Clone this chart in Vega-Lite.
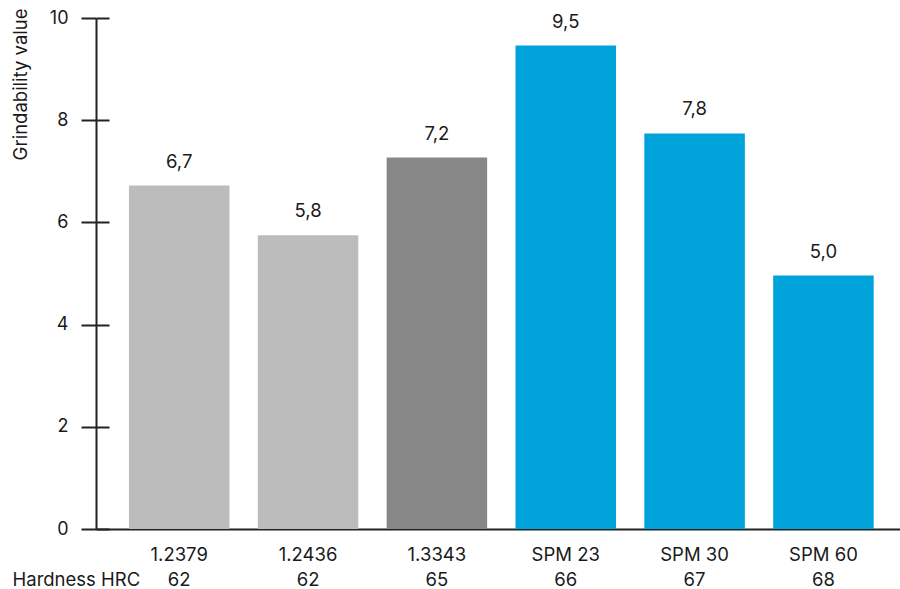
{
  "$schema": "https://vega.github.io/schema/vega-lite/v6.json",
  "width": 804,
  "height": 511,
  "autosize": {"type": "none"},
  "padding": {"left": 96, "top": 18, "right": 0, "bottom": 60},
  "background": "white",
  "config": {
    "view": {"stroke": null},
    "font": "Inter",
    "text": {"font": "Inter"}
  },
  "data": {
    "values": [
      {"cat": "1.2379|62", "value": 6.72, "label": "6,7", "grp": "light"},
      {"cat": "1.2436|62", "value": 5.75, "label": "5,8", "grp": "light"},
      {"cat": "1.3343|65", "value": 7.27, "label": "7,2", "grp": "dark"},
      {"cat": "SPM 23|66", "value": 9.46, "label": "9,5", "grp": "blue"},
      {"cat": "SPM 30|67", "value": 7.74, "label": "7,8", "grp": "blue"},
      {"cat": "SPM 60|68", "value": 4.96, "label": "5,0", "grp": "blue"}
    ]
  },
  "encoding": {
    "x": {
      "field": "cat",
      "type": "nominal",
      "sort": null,
      "scale": {"paddingInner": 0.22, "paddingOuter": 0.23, "align": 0.556},
      "axis": {
        "title": "Hardness HRC",
        "titleFont": "Inter",
        "titleFontSize": 18.5,
        "titleFontWeight": "normal",
        "titleColor": "#1a1a1a",
        "titleAnchor": null,
        "titleAlign": "left",
        "titleBaseline": "alphabetic",
        "titleX": -84,
        "titleY": 56,
        "labelExpr": "split(datum.value, '|')",
        "labelAngle": 0,
        "labelFont": "Inter",
        "labelFontSize": 18.5,
        "labelColor": "#1a1a1a",
        "labelLineHeight": 25,
        "labelPadding": 16,
        "ticks": false,
        "domainColor": "#222222",
        "domainWidth": 2
      }
    },
    "y": {
      "field": "value",
      "type": "quantitative",
      "scale": {"domain": [0, 10], "nice": false}
    }
  },
  "layer": [
    {
      "mark": {"type": "bar"},
      "encoding": {
        "color": {
          "field": "grp",
          "type": "nominal",
          "scale": {"domain": ["light", "dark", "blue"], "range": ["#bcbcbc", "#878787", "#00a2da"]},
          "legend": null
        },
        "y": {
          "field": "value",
          "type": "quantitative",
          "scale": {"domain": [0, 10], "nice": false},
          "axis": {
            "title": "Grindability value",
            "titleFont": "Inter",
            "titleFontSize": 18.5,
            "titleFontWeight": "normal",
            "titleColor": "#1a1a1a",
            "titleAnchor": null,
            "titleAlign": "right",
            "titleBaseline": "middle",
            "titleAngle": -90,
            "titleX": -76,
            "titleY": -10,
            "values": [0, 2, 4, 6, 8, 10],
            "grid": false,
            "tickSize": 15,
            "tickWidth": 2,
            "tickColor": "#222222",
            "domainColor": "#222222",
            "domainWidth": 2,
            "labelFont": "Inter",
            "labelFontSize": 18,
            "labelColor": "#1a1a1a",
            "labelPadding": 13
          }
        }
      }
    },
    {
      "mark": {"type": "text", "dy": -24, "baseline": "middle", "fontSize": 18.5, "color": "#1a1a1a", "font": "Inter"},
      "encoding": {
        "text": {"field": "label"},
        "y": {
          "field": "value",
          "type": "quantitative",
          "scale": {"domain": [0, 10], "nice": false},
          "axis": {
            "orient": "right",
            "offset": -804,
            "title": null,
            "labels": false,
            "domain": false,
            "grid": false,
            "values": [0, 2, 4, 6, 8, 10],
            "tickSize": 13,
            "tickWidth": 2,
            "tickColor": "#222222"
          }
        }
      }
    }
  ],
  "resolve": {"axis": {"y": "independent"}}
}
